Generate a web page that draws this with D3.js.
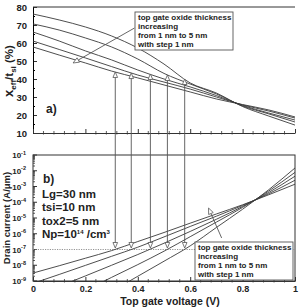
<!DOCTYPE html>
<html><head><meta charset="utf-8">
<script src="https://cdn.jsdelivr.net/npm/d3@7"></script>
<style>body{margin:0;background:#fff}svg{display:block}text{font-family:Arial,"Liberation Sans",sans-serif;font-weight:bold;fill:#222}</style>
</head><body><svg id="c" width="299" height="308"></svg>
<script>
// ---------- data ----------
const voltage = [0, 0.1, 0.2, 0.3, 0.4, 0.5, 0.6, 0.7, 0.8, 0.9, 1.0];
// panel a) x_eff / t_si (%) for top gate oxide thickness 1..5 nm
const xeffTox1 = [76.1, 72.8, 68.9, 63.9, 57.2, 48.3, 37.8, 32.2, 24.7, 19.4, 14.4];
const xeffTox2 = [70.6, 67.2, 62.8, 57.8, 51.1, 43.1, 37.2, 31.7, 25.0, 20.6, 16.1];
const xeffTox3 = [66.1, 61.1, 55.6, 50.6, 45.0, 40.0, 35.6, 30.8, 25.3, 21.1, 17.2];
const xeffTox4 = [61.1, 56.4, 51.7, 46.9, 42.2, 38.3, 34.4, 30.0, 25.6, 22.2, 18.3];
const xeffTox5 = [57.8, 53.3, 48.9, 44.4, 40.6, 36.7, 32.8, 28.9, 25.8, 22.8, 18.9];
// panel b) drain current (A/um)
const idTox1 = [3.2e-13, 2.8e-12, 2.5e-11, 2.2e-10, 2.0e-9, 1.8e-8, 1.7e-7, 2.5e-6, 3.6e-5, 6.3e-4, 1.5e-2];
const idTox2 = [5.6e-12, 3.7e-11, 2.5e-10, 1.7e-9, 1.1e-8, 7.8e-8, 6.5e-7, 5.5e-6, 4.7e-5, 5.2e-4, 7.9e-3];
const idTox3 = [1.0e-10, 4.5e-10, 2.1e-9, 1.0e-8, 4.8e-8, 2.5e-7, 1.4e-6, 8.3e-6, 5.4e-5, 4.2e-4, 4.5e-3];
const idTox4 = [7.1e-10, 2.6e-9, 9.8e-9, 3.7e-8, 1.4e-7, 6.3e-7, 2.9e-6, 1.3e-5, 6.3e-5, 3.5e-4, 2.5e-3];
const idTox5 = [3.2e-9, 9.3e-9, 2.8e-8, 8.5e-8, 3.2e-7, 1.2e-6, 4.7e-6, 1.8e-5, 6.9e-5, 3.0e-4, 1.4e-3];
// threshold markers (current = 1e-7 A/um)
const thresholdV = [0.314, 0.375, 0.448, 0.513, 0.579];
const thresholdXeff = [43.9, 43.3, 42.8, 42.2, 40.0];
const thresholdCurrent = 1e-7;
// ticks
const xTicks = [0, 0.2, 0.4, 0.6, 0.8, 1];
const xTickLabels = ["0", "0.2", "0.4", "0.6", "0.8", "1"];
const yTopTicks = [10, 20, 30, 40, 50, 60, 70, 80];
const yBotExponents = [-1, -2, -3, -4, -5, -6, -7, -8, -9];
const legendLines = ["top gate oxide thickness", "increasing", "from 1 nm to 5 nm", "with step 1 nm"];
const paramLines = ["Lg=30 nm", "tsi=10 nm", "tox2=5 nm"];
// legend arrows (data units)
const arrowTop = {from: [0.387, 68.3], to: [0.153, 48.9]};
const arrowBot = {from: [0.72, 5.4e-7], to: [0.67, 4.3e-5]};

// ---------- drawing ----------
const svg = d3.select('#c');
const x = d3.scaleLinear().domain([0, 1]).range([33, 295]);
const yTop = d3.scaleLinear().domain([10, 80]).range([133, 7]);
const yBot = d3.scaleLog().domain([1e-9, 1e-1]).range([281, 155]);
const axisColor = '#333', curveColor = '#3a3a3a';

svg.append('defs').append('clipPath').attr('id', 'clipB')
  .append('rect').attr('x', 33).attr('y', 155).attr('width', 262).attr('height', 126);
svg.select('defs').append('clipPath').attr('id', 'clipA')
  .append('rect').attr('x', 33).attr('y', 7).attr('width', 262).attr('height', 126);

// frames
svg.append('line').attr('x1', x(0)).attr('x2', x(1)).attr('y1', yTop(80)).attr('y2', yTop(80)).attr('stroke', axisColor);
svg.append('rect').attr('x', x(0)).attr('y', yBot(1e-1)).attr('width', x(1) - x(0)).attr('height', yBot(1e-9) - yBot(1e-1))
  .attr('fill', 'none').attr('stroke', axisColor);

// top axes
const gTopY = svg.append('g').attr('transform', `translate(${x(0)},0)`)
  .call(d3.axisLeft(yTop).tickValues(yTopTicks).tickSizeInner(-4).tickSizeOuter(0).tickPadding(6));
gTopY.selectAll('text').style('font-size', '9.5px');
svg.append('g').attr('transform', `translate(${x(0)},0)`)
  .call(d3.axisLeft(yTop).tickValues(d3.range(15, 80, 10)).tickSizeInner(-2).tickSizeOuter(0).tickFormat(''));
const gTopX = svg.append('g').attr('transform', `translate(0,${yTop(10)})`)
  .call(d3.axisBottom(x).tickValues(xTicks).tickSizeInner(-4).tickSizeOuter(0).tickFormat(''));
[gTopY, gTopX].forEach(g => { g.select('.domain').attr('stroke', axisColor); g.selectAll('line').attr('stroke', axisColor); });

// minor x ticks for both panels
const minorX = d3.range(0.04, 1, 0.04).filter(v => Math.abs(v * 5 - Math.round(v * 5)) > 1e-6);
[yTop(10), yBot(1e-9)].forEach(y0 => {
  svg.append('g').selectAll('line').data(minorX).join('line')
    .attr('x1', d => x(d)).attr('x2', d => x(d)).attr('y1', y0 - 2).attr('y2', y0 + 1.5)
    .attr('stroke', axisColor).attr('stroke-width', 0.8);
});

// bottom axes
const gBotX = svg.append('g').attr('transform', `translate(0,${yBot(1e-9)})`)
  .call(d3.axisBottom(x).tickValues(xTicks).tickSizeInner(-4).tickSizeOuter(0).tickPadding(5)
    .tickFormat((d, i) => xTickLabels[i]));
gBotX.selectAll('text').style('font-size', '9px');
gBotX.select('.domain').attr('stroke', axisColor); gBotX.selectAll('line').attr('stroke', axisColor);

const majorsB = yBotExponents.map(e => Math.pow(10, e));
const minorsB = [];
majorsB.forEach(m => { if (m < 1e-1) for (let k = 2; k < 10; k++) minorsB.push(m * k); });
svg.append('g').selectAll('line').data(minorsB).join('line')
  .attr('x1', x(0)).attr('x2', x(0) + 2).attr('y1', d => yBot(d)).attr('y2', d => yBot(d))
  .attr('stroke', axisColor).attr('stroke-width', 0.8);
svg.append('g').selectAll('line').data(majorsB).join('line')
  .attr('x1', x(0)).attr('x2', x(0) + 4).attr('y1', d => yBot(d)).attr('y2', d => yBot(d))
  .attr('stroke', axisColor);
const yLab = svg.append('g').selectAll('text').data(yBotExponents).join('text')
  .attr('x', 26).attr('y', d => yBot(Math.pow(10, d)) + 3).attr('text-anchor', 'end').style('font-size', '8px');
yLab.append('tspan').text('10');
yLab.append('tspan').attr('dy', -3.5).style('font-size', '5.5px').text(d => '-' + (-d));

// dotted 1e-7 line
svg.append('line').attr('x1', x(0)).attr('x2', x(1)).attr('y1', yBot(thresholdCurrent)).attr('y2', yBot(thresholdCurrent))
  .attr('stroke', '#888').attr('stroke-dasharray', '1.2,1.2').attr('stroke-width', 0.9);

// curves
const topSeries = [xeffTox1, xeffTox2, xeffTox3, xeffTox4, xeffTox5];
const botSeries = [idTox1, idTox2, idTox3, idTox4, idTox5];
const lineTop = d3.line().x((d, i) => x(voltage[i])).y(d => yTop(d)).curve(d3.curveMonotoneX);
const lineBot = d3.line().x((d, i) => x(voltage[i])).y(d => yBot(d)).curve(d3.curveMonotoneX);
svg.append('g').attr('clip-path', 'url(#clipA)').selectAll('path').data(topSeries).join('path')
  .attr('d', lineTop).attr('fill', 'none').attr('stroke', curveColor).attr('stroke-width', 0.9);
svg.append('g').attr('clip-path', 'url(#clipB)').selectAll('path').data(botSeries).join('path')
  .attr('d', lineBot).attr('fill', 'none').attr('stroke', curveColor).attr('stroke-width', 0.9);

// threshold double arrows
const arrowColor = '#555';
const gArr = svg.append('g');
thresholdV.forEach((v, i) => {
  const xx = x(v), yT = yTop(thresholdXeff[i]), yB = yBot(thresholdCurrent) - 1.5;
  gArr.append('line').attr('x1', xx).attr('x2', xx).attr('y1', yT + 5).attr('y2', yB - 5)
    .attr('stroke', arrowColor).attr('stroke-width', 0.9);
  gArr.append('path').attr('d', `M${xx},${yT}L${xx - 2.3},${yT + 5.5}L${xx + 2.3},${yT + 5.5}Z`)
    .attr('fill', '#fff').attr('stroke', arrowColor).attr('stroke-width', 0.8);
  gArr.append('path').attr('d', `M${xx},${yB}L${xx - 2.3},${yB - 5.5}L${xx + 2.3},${yB - 5.5}Z`)
    .attr('fill', '#fff').attr('stroke', arrowColor).attr('stroke-width', 0.8);
});

// legend arrows
function legendArrow(x1, y1, x2, y2) {
  const ang = Math.atan2(y2 - y1, x2 - x1), L = 6, w = 2.5;
  const bx = x2 - L * Math.cos(ang), by = y2 - L * Math.sin(ang);
  const px = -Math.sin(ang) * w, py = Math.cos(ang) * w;
  svg.append('line').attr('x1', x1).attr('y1', y1).attr('x2', bx).attr('y2', by).attr('stroke', arrowColor).attr('stroke-width', 0.9);
  svg.append('path').attr('d', `M${x2},${y2}L${bx + px},${by + py}L${bx - px},${by - py}Z`)
    .attr('fill', '#fff').attr('stroke', arrowColor).attr('stroke-width', 0.8);
}
legendArrow(x(arrowTop.from[0]), yTop(arrowTop.from[1]), x(arrowTop.to[0]), yTop(arrowTop.to[1]));
legendArrow(x(arrowBot.from[0]), yBot(arrowBot.from[1]), x(arrowBot.to[0]), yBot(arrowBot.to[1]));

// legend boxes
function legendBox(bx, by, bw, bh) {
  svg.append('rect').attr('x', bx).attr('y', by).attr('width', bw).attr('height', bh)
    .attr('fill', '#fff').attr('stroke', '#555').attr('stroke-width', 0.9);
  svg.append('g').selectAll('text').data(legendLines).join('text')
    .attr('x', bx + 3).attr('y', (d, i) => by + 7.5 + i * 9).style('font-size', '8px').text(d => d);
}
legendBox(135, 12, 98, 38);
legendBox(195, 242, 98, 38);

// panel labels
svg.append('text').attr('x', 46).attr('y', 113).style('font-size', '12px').text('a)');
svg.append('text').attr('x', 43).attr('y', 183).style('font-size', '12px').text('b)');
svg.append('g').selectAll('text').data(paramLines).join('text')
  .attr('x', 42).attr('y', (d, i) => 198 + i * 13.3).style('font-size', '11.5px').text(d => d);
const np = svg.append('text').attr('x', 42).attr('y', 238).style('font-size', '11.5px');
np.append('tspan').text('Np=10');
np.append('tspan').attr('dy', -4).style('font-size', '6px').text('14');
np.append('tspan').attr('dy', 4).text(' /cm');
np.append('tspan').attr('dy', -4).style('font-size', '6px').text('3');

// axis titles
const t1 = svg.append('text').attr('transform', 'translate(13,71) rotate(-90)').attr('text-anchor', 'middle').style('font-size', '11.5px');
t1.append('tspan').style('font-size', '13px').text('x');
t1.append('tspan').attr('dy', 3).style('font-size', '8px').text('eff');
t1.append('tspan').attr('dy', -3).text('/t');
t1.append('tspan').attr('dy', 3).style('font-size', '8px').text('si');
t1.append('tspan').attr('dy', -3).text(' (%)');
svg.append('text').attr('transform', 'translate(10,218) rotate(-90)').attr('text-anchor', 'middle')
  .style('font-size', '9.5px').text('Drain current (A/\u03bcm)');
svg.append('text').attr('x', 170).attr('y', 305).attr('text-anchor', 'middle').style('font-size', '10.5px').text('Top gate voltage (V)');
</script></body></html>
